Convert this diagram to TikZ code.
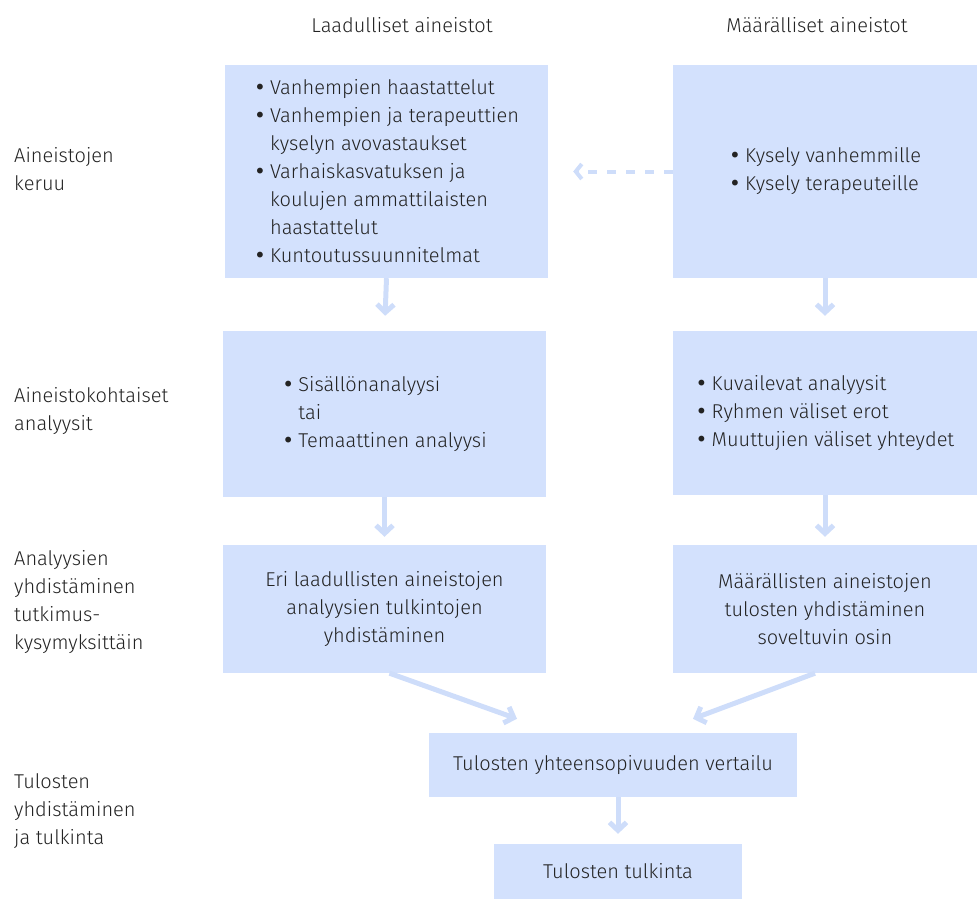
\documentclass[tikz,border=0pt]{standalone}
\usepackage{fontspec}
\setmainfont{Fira Sans Light}
\newfontfamily\bulletfont{DejaVu Sans}
\usetikzlibrary{arrows.meta}
\definecolor{boxblue}{RGB}{211,225,253}
\definecolor{arrowblue}{RGB}{206,221,250}
\definecolor{inktext}{RGB}{35,35,35}
\newcommand{\itm}{\makebox[16pt][l]{\bulletfont •}}
\newcommand{\cont}{\hspace*{16pt}}

\begin{document}
\begin{tikzpicture}[x=1pt, y=-1pt,
		stagebox/.style={fill=boxblue, inner sep=0pt, text=inktext, font=\fontsize{20}{28}\selectfont},
		rowlabel/.style={anchor=west, align=left, inner sep=0pt, text=inktext, font=\fontsize{20}{28}\selectfont},
		flowarrow/.style={draw=arrowblue, line width=5pt, -{Straight Barb[length=8pt,width=17pt]}},
		dasharrow/.style={draw=arrowblue, line width=4pt, dash pattern=on 9pt off 10pt, -{Straight Barb[length=6pt,width=15pt]}}
	]
	\useasboundingbox (0,0) rectangle (977,899);

	\node[inner sep=0pt, text=inktext, font=\fontsize{20}{28}\selectfont] (hqual) at (402,25) {Laadulliset aineistot};
	\node[inner sep=0pt, text=inktext, font=\fontsize{20}{28}\selectfont] (hquant) at (817,25) {Määrälliset aineistot};

	\node[rowlabel] (lkeruu) at (14,169) {Aineistojen\\keruu};
	\node[rowlabel] (lanal) at (14,411) {Aineistokohtaiset\\analyysit};
	\node[rowlabel] (lyhd) at (14,602) {Analyysien\\yhdistäminen\\tutkimus-\\kysymyksittäin};
	\node[rowlabel] (ltul) at (14,811) {Tulosten\\yhdistäminen\\ja tulkinta};

	\node[stagebox, align=left, minimum width=323pt, minimum height=213pt] (keruuA) at (386.5,171.5) {%
		\itm Vanhempien haastattelut\\
		\itm Vanhempien ja terapeuttien\\
		\cont kyselyn avovastaukset\\
		\itm Varhaiskasvatuksen ja\\
		\cont koulujen ammattilaisten\\
		\cont haastattelut\\
		\itm Kuntoutussuunnitelmat};
	\node[stagebox, align=left, minimum width=304pt, minimum height=213pt] (keruuB) at (825,171.5) {%
		\itm Kysely vanhemmille\\
		\itm Kysely terapeuteille};

	\node[stagebox, align=left, minimum width=323pt, minimum height=166pt] (analA) at (384.5,414) {%
		\itm Sisällönanalyysi\\
		\cont tai\\
		\itm Temaattinen analyysi};
	\node[stagebox, align=left, minimum width=304pt, minimum height=164pt] (analB) at (825,413) {%
		\itm Kuvailevat analyysit\\
		\itm Ryhmen väliset erot\\
		\itm Muuttujien väliset yhteydet};

	\node[stagebox, align=center, minimum width=323pt, minimum height=128pt] (yhdA) at (384.5,609) {%
		Eri laadullisten aineistojen\\
		analyysien tulkintojen\\
		yhdistäminen};
	\node[stagebox, align=center, minimum width=304pt, minimum height=128pt] (yhdB) at (825,609) {%
		Määrällisten aineistojen\\
		tulosten yhdistäminen\\
		soveltuvin osin};

	\node[stagebox, minimum width=368pt, minimum height=64pt] (vert) at (613,765) {Tulosten yhteensopivuuden vertailu};
	\node[stagebox, minimum width=248pt, minimum height=55pt] (tulk) at (618,871.5) {Tulosten tulkinta};

	\draw[dasharrow, shorten >=25pt] (keruuB.west) -- (keruuA.east);
	\draw[flowarrow, shorten >=15pt] (keruuA.south) -- (analA.north);
	\draw[flowarrow, shorten >=15pt] (keruuB.south) -- (analB.north);
	\draw[flowarrow, shorten >=8pt] (analA.south) -- (yhdA.north);
	\draw[flowarrow, shorten >=8pt] (analB.south) -- (yhdB.north);
	\draw[flowarrow] ([xshift=5pt]yhdA.south) -- ([xshift=-96pt,yshift=14pt]vert.north);
	\draw[flowarrow] ([xshift=-10pt]yhdB.south) -- ([xshift=80pt,yshift=14pt]vert.north);
	\draw[flowarrow, shorten >=10pt] (tulk.north |- vert.south) -- (tulk.north);
\end{tikzpicture}
\end{document}
